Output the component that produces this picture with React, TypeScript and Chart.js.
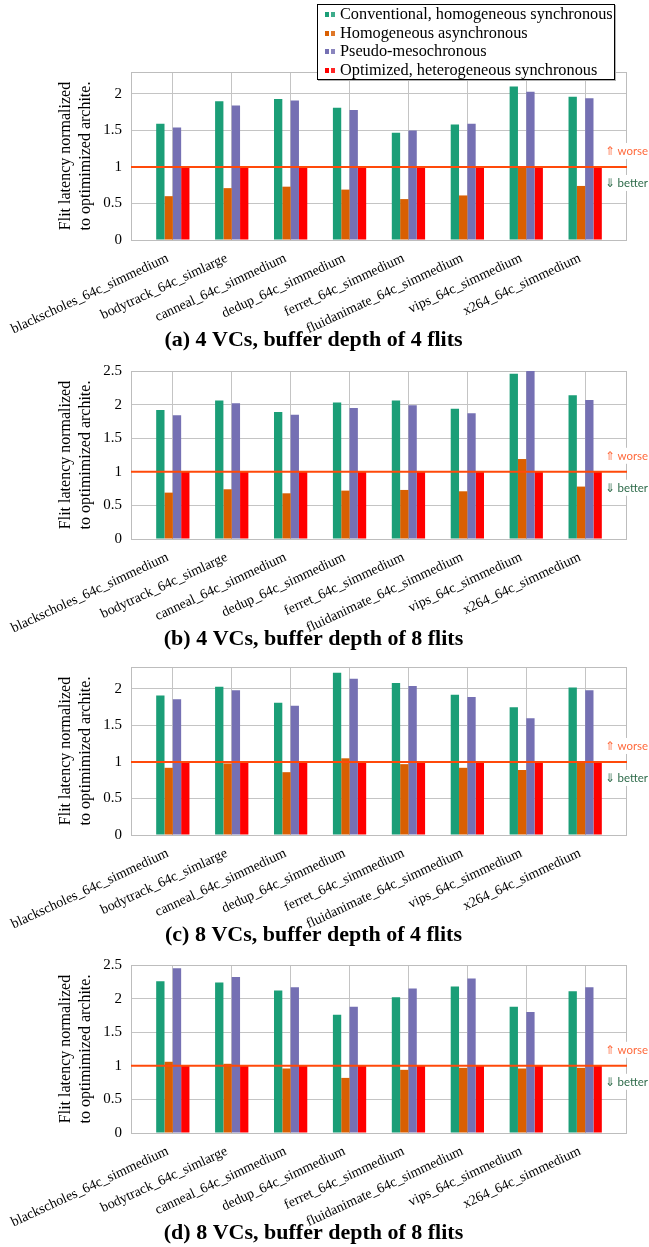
import React, { useEffect, useRef } from 'react';
import { Chart, registerables } from 'chart.js';

Chart.register(...registerables);

const categories = [
  'blackscholes_64c_simmedium',
  'bodytrack_64c_simlarge',
  'canneal_64c_simmedium',
  'dedup_64c_simmedium',
  'ferret_64c_simmedium',
  'fluidanimate_64c_simmedium',
  'vips_64c_simmedium',
  'x264_64c_simmedium',
];

const seriesNames = [
  'Conventional, homogeneous synchronous',
  'Homogeneous asynchronous',
  'Pseudo-mesochronous',
  'Optimized, heterogeneous synchronous',
];
const seriesColors = ['#1b9e77', '#d95f02', '#7570b3', '#ff0000'];

// (a) 4 VCs, buffer depth of 4 flits
const convA = [1.59, 1.9, 1.93, 1.81, 1.47, 1.58, 2.1, 1.96];
const asyncA = [0.6, 0.71, 0.73, 0.69, 0.56, 0.61, 1.0, 0.74];
const pseudoA = [1.54, 1.84, 1.91, 1.78, 1.5, 1.59, 2.03, 1.94];
const optA = [1, 1, 1, 1, 1, 1, 1, 1];

// (b) 4 VCs, buffer depth of 8 flits
const convB = [1.92, 2.06, 1.89, 2.03, 2.06, 1.94, 2.46, 2.14];
const asyncB = [0.69, 0.74, 0.68, 0.72, 0.73, 0.71, 1.19, 0.78];
const pseudoB = [1.84, 2.02, 1.85, 1.95, 1.99, 1.87, 2.5, 2.07];
const optB = [1, 1, 1, 1, 1, 1, 1, 1];

// (c) 8 VCs, buffer depth of 4 flits
const convC = [1.91, 2.03, 1.81, 2.22, 2.08, 1.92, 1.75, 2.02];
const asyncC = [0.92, 0.98, 0.86, 1.05, 0.97, 0.92, 0.89, 1.0];
const pseudoC = [1.86, 1.98, 1.77, 2.14, 2.04, 1.89, 1.6, 1.98];
const optC = [1, 1, 1, 1, 1, 1, 1, 1];

// (d) 8 VCs, buffer depth of 8 flits
const convD = [2.26, 2.24, 2.12, 1.76, 2.02, 2.18, 1.88, 2.11];
const asyncD = [1.06, 1.03, 0.96, 0.82, 0.94, 0.97, 0.96, 0.97];
const pseudoD = [2.45, 2.32, 2.17, 1.88, 2.15, 2.3, 1.8, 2.17];
const optD = [1, 1, 1, 1, 1, 1, 1, 1];

const yTicksShort = [0, 0.5, 1, 1.5, 2];
const yTicksLong = [0, 0.5, 1, 1.5, 2, 2.5];

const captions = [
  '(a) 4 VCs, buffer depth of 4 flits',
  '(b) 4 VCs, buffer depth of 8 flits',
  '(c) 8 VCs, buffer depth of 4 flits',
  '(d) 8 VCs, buffer depth of 8 flits',
];

const yTitle = ['Flit latency normalized', 'to optimimized archite.'];
const baselineValue = 1;
const worseText = '\u21D1 worse';
const betterText = '\u21D3 better';

const SERIF = "'Liberation Serif', 'DejaVu Serif', serif";
const SANS = "Lato, 'DejaVu Sans', sans-serif";
const GRID = '#c4c4c4';

const X_MIN = -0.71;
const X_MAX = 7.71;

const boxPlugin = {
  id: 'boxPlugin',
  beforeDatasetsDraw(chart: any) {
    const { ctx, chartArea } = chart;
    ctx.save();
    ctx.strokeStyle = '#bdbdbd';
    ctx.lineWidth = 1;
    ctx.strokeRect(
      Math.round(chartArea.left) + 0.5,
      Math.round(chartArea.top) + 0.5,
      Math.round(chartArea.right - chartArea.left) - 1,
      Math.round(chartArea.bottom - chartArea.top)
    );
    ctx.restore();
  },
};

const notePlugin = {
  id: 'notePlugin',
  afterDraw(chart: any) {
    const { ctx } = chart;
    const y1 = chart.scales.y.getPixelForValue(baselineValue);
    const x0 = 605;
    ctx.save();
    ctx.font = `12px ${SANS}`;
    ctx.textBaseline = 'middle';
    ctx.textAlign = 'left';
    const items = [
      { text: worseText, dy: -16, color: '#ff6a3d' },
      { text: betterText, dy: 16, color: '#2e6b4a' },
    ];
    for (const it of items) {
      const w = ctx.measureText(it.text).width;
      ctx.fillStyle = '#ffffff';
      ctx.fillRect(x0 - 1, y1 + it.dy - 8, w + 2, 16);
      ctx.fillStyle = it.color;
      ctx.fillText(it.text, x0, y1 + it.dy, 43);
    }
    ctx.restore();
  },
};

type PanelProps = {
  series: number[][];
  yMax: number;
  yTicks: number[];
  caption: string;
  top: number;
};

function Panel({ series, yMax, yTicks, caption, top }: PanelProps) {
  const ref = useRef<HTMLCanvasElement | null>(null);
  useEffect(() => {
    if (!ref.current) return;
    const chart = new Chart(ref.current, {
      type: 'bar',
      data: {
        datasets: [
          ...series.map((vals, si) => ({
            type: 'bar' as const,
            label: seriesNames[si],
            data: vals.map((v, i) => ({ x: i, y: v })),
            backgroundColor: seriesColors[si],
            borderWidth: 0,
            barPercentage: 1,
            categoryPercentage: 0.565,
            order: 1,
          })),
          {
            type: 'line' as const,
            label: 'baseline',
            data: [
              { x: X_MIN, y: baselineValue },
              { x: X_MAX, y: baselineValue },
            ],
            borderColor: '#ff4a0a',
            borderWidth: 2,
            pointRadius: 0,
            order: 0,
          },
        ] as any,
      },
      options: {
        animation: false,
        responsive: false,
        maintainAspectRatio: false,
        layout: { padding: { top: 20, right: 22, left: 0, bottom: 15 } },
        plugins: {
          legend: { display: false },
          tooltip: { enabled: false },
          title: {
            display: true,
            position: 'bottom',
            text: caption,
            color: '#000',
            font: { family: SERIF, size: 22, weight: 'bold', lineHeight: 1.2 },
            padding: { top: -8.5, bottom: -4.9 },
          },
        },
        scales: {
          x: {
            type: 'linear',
            min: X_MIN,
            max: X_MAX,
            offset: false,
            grid: { color: GRID, drawTicks: false, offset: false },
            border: { display: false },
            afterBuildTicks: (s: any) => {
              s.ticks = categories.map((_, i) => ({ value: i }));
            },
            afterFit: (s: any) => {
              s.height = 96;
              s.paddingLeft = 0;
              s.paddingRight = 0;
            },
            ticks: {
              autoSkip: false,
              minRotation: 25,
              maxRotation: 25,
              padding: 10,
              labelOffset: -5,
              color: '#000',
              font: { family: SERIF, size: 14 },
              callback: (v: any) => categories[v as number] ?? '',
            },
          },
          y: {
            type: 'linear',
            min: 0,
            max: yMax,
            grid: { color: GRID, drawTicks: false },
            border: { display: false },
            afterBuildTicks: (s: any) => {
              s.ticks = yTicks.map((v) => ({ value: v }));
            },
            afterFit: (s: any) => {
              s.width = 131;
              s.paddingTop = 0;
              s.paddingBottom = 0;
            },
            ticks: {
              padding: 9,
              color: '#000',
              font: { family: SERIF, size: 15 },
              callback: (v: any) => String(v),
            },
            title: {
              display: true,
              text: yTitle,
              color: '#000',
              font: { family: SERIF, size: 16, lineHeight: 1.28 },
              padding: { top: 55.5, bottom: 0 },
            },
          },
        },
      } as any,
      plugins: [boxPlugin, notePlugin],
    });
    return () => chart.destroy();
  }, []);
  return (
    <canvas
      ref={ref}
      width={649}
      height={312}
      style={{ position: 'absolute', left: 0, top, width: 649, height: 312 }}
    />
  );
}

function Legend() {
  return (
    <div
      style={{
        position: 'absolute',
        left: 317,
        top: 4,
        width: 296,
        height: 74,
        border: '1px solid #000',
        boxShadow: '1px 1px 0 #b0b0b0',
        background: '#fff',
        zIndex: 5,
        fontFamily: SERIF,
        fontSize: 16.3,
        color: '#000',
        paddingTop: 0,
      }}
    >
      {seriesNames.map((name, i) => (
        <div
          key={name}
          style={{ position: 'relative', height: 18.6, lineHeight: '18.6px', paddingLeft: 22, whiteSpace: 'nowrap' }}
        >
          <span
            style={{ position: 'absolute', left: 7, top: 7, width: 4, height: 5, background: seriesColors[i] }}
          />
          <span
            style={{ position: 'absolute', left: 13, top: 7, width: 4, height: 5, background: seriesColors[i], opacity: 0.85 }}
          />
          {name}
        </div>
      ))}
    </div>
  );
}

export default function App() {
  return (
    <div style={{ position: 'absolute', left: 0, top: 0, width: 649, height: 1247, background: '#fff', overflow: 'hidden' }}>
      <Panel series={[convA, asyncA, pseudoA, optA]} yMax={2.3} yTicks={yTicksShort} caption={captions[0]} top={52} />
      <Panel series={[convB, asyncB, pseudoB, optB]} yMax={2.5} yTicks={yTicksLong} caption={captions[1]} top={351} />
      <Panel series={[convC, asyncC, pseudoC, optC]} yMax={2.3} yTicks={yTicksShort} caption={captions[2]} top={647} />
      <Panel series={[convD, asyncD, pseudoD, optD]} yMax={2.5} yTicks={yTicksLong} caption={captions[3]} top={945} />
      <Legend />
    </div>
  );
}
